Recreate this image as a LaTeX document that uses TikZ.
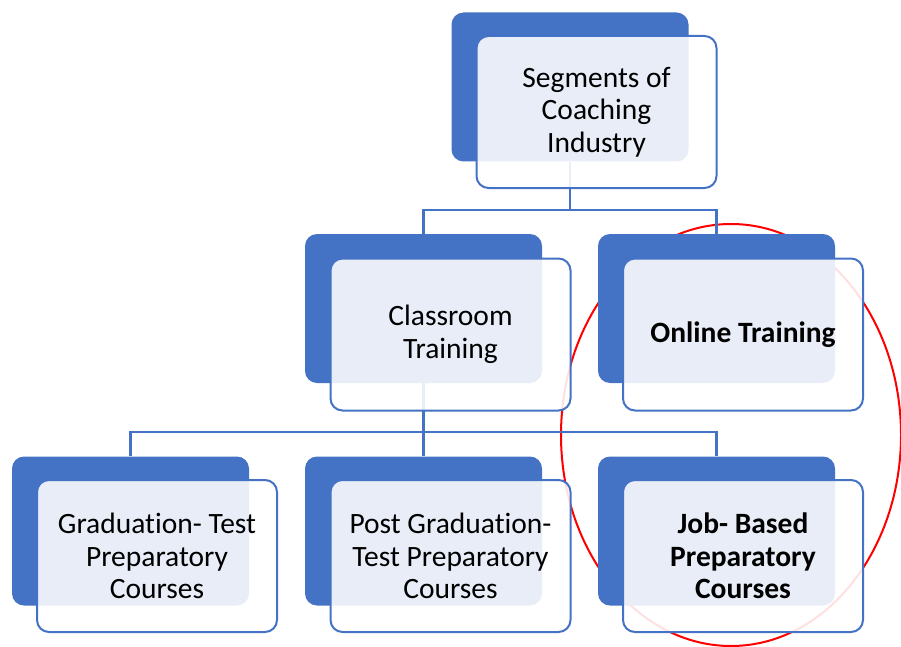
\documentclass[tikz,border=0pt]{standalone}
\usepackage{fontspec}
\setmainfont{Carlito}[Ligatures={NoCommon}]
\usetikzlibrary{backgrounds}
\definecolor{accent}{HTML}{4472C4}
\definecolor{linecol}{HTML}{4472C4}
\tikzset{
  backbox/.style={draw=none, fill=accent, rounded corners=12pt, minimum width=237pt, minimum height=149pt, inner sep=0pt},
  frontbox/.style={draw=accent, line width=2pt, fill=white, fill opacity=0.88, text opacity=1, rounded corners=12pt, minimum width=240pt, minimum height=152pt, inner sep=0pt, align=center, font=\fontsize{29.5}{32.5}\selectfont},
  boldtext/.style={font=\fontsize{29.5}{32.5}\selectfont\bfseries},
  conn/.style={draw=linecol, line width=2.4pt},
  mark ring/.style={draw=red, line width=2pt}
}
\begin{document}
\begin{tikzpicture}[x=1pt,y=-1pt]
\useasboundingbox (0,0) rectangle (901,647);
% top
\node[backbox] (topb) at (570,87) {};
\node[frontbox] (topf) at (596.5,112) {Segments of\\Coaching\\Industry};
% row 2
\node[backbox] (classb) at (423.5,308.5) {};
\node[frontbox] (classf) at (450.5,334.5) {Classroom\\Training};
\node[backbox] (onb) at (716.5,308.5) {};
\node[frontbox,boldtext] (onf) at (743,334.5) {Online Training};
% row 3
\node[backbox] (gradb) at (130.5,531) {};
\node[frontbox] (gradf) at (157,556) {Graduation- Test\\Preparatory\\Courses};
\node[backbox] (postb) at (423.5,531) {};
\node[frontbox] (postf) at (450.5,556) {Post Graduation-\\Test Preparatory\\Courses};
\node[backbox] (jobb) at (716.5,531) {};
\node[frontbox,boldtext] (jobf) at (743,556) {Job- Based\\Preparatory\\Courses};
\coordinate (j1) at (570,210);
\coordinate (j2) at (423.5,432);
\coordinate (ringc) at (731,435);
\begin{scope}[on background layer]
  \draw[mark ring] (ringc) ellipse [x radius=170, y radius=211];
  \draw[conn] (topb.south) -- (j1) -| (classb.north);
  \draw[conn] (j1) -| (onb.north);
  \draw[conn] (classb.south) -- (j2) -| (gradb.north);
  \draw[conn] (j2) -| (postb.north);
  \draw[conn] (j2) -| (jobb.north);
\end{scope}
\end{tikzpicture}
\end{document}
